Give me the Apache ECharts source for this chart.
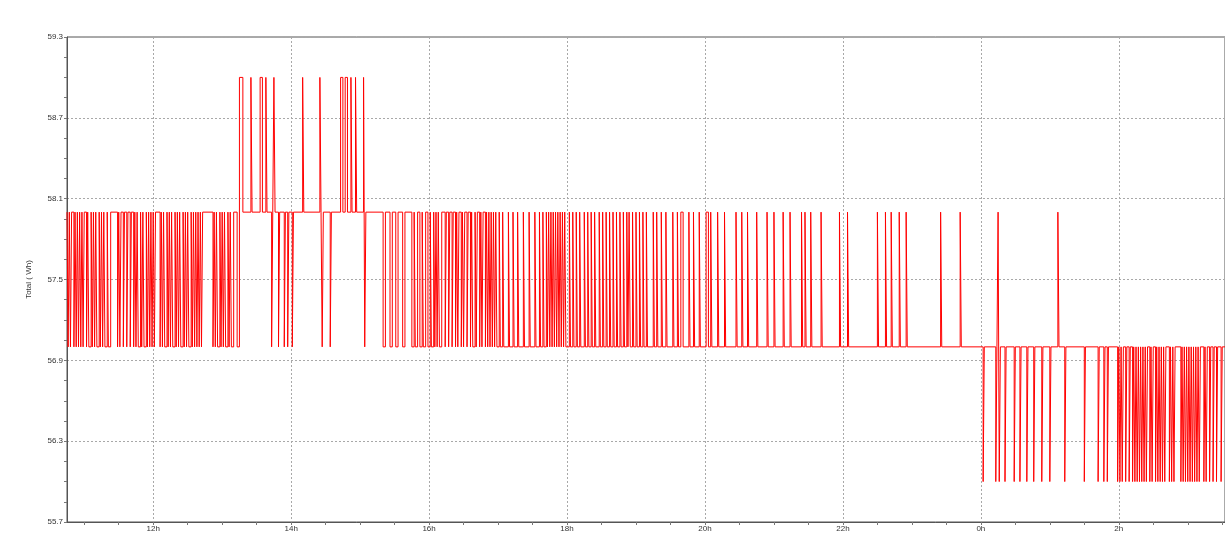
<!DOCTYPE html>
<html><head><meta charset="utf-8">
<script src="https://cdn.jsdelivr.net/npm/echarts@6/dist/echarts.min.js"></script>
<style>html,body{margin:0;padding:0;background:#fff}#c{width:1225px;height:533px}</style>
</head><body><div id="c"></div>
<script>
// Times are minutes after 10:00 (day 1); each entry = [minute, value from that minute on]
const stepsMorning = [[45,58],[46,57],[47,58],[48,57],[49,58],[51,57],[52,58],[53,57],[54,58],[55,57],[56,58],[57,57],[58,58],[59,57],[60,58],[62,57],[63,58],[64,57],[66,58],[67,57],[68,58],[69,57],[70,58],[71,57],[73,58],[74,57],[75,58],[76,57],[77,58],[78,57],[80,58],[81,57],[83,58],[89,57],[90,58],[91,57],[92,58],[94,57],[95,58],[97,57],[98,58],[100,57],[101,58],[103,57],[104,58],[105,57],[106,58],[107,57],[109,58],[110,57],[111,58],[112,57],[114,58],[115,57],[116,58],[117,57],[118,58],[119,57],[120,58],[121,57],[122,58],[126,57],[127,58],[128,57],[129,58],[130,57],[132,58],[133,57],[134,58],[135,57],[136,58],[137,57],[139,58],[140,57],[141,58],[142,57],[143,58],[144,57],[146,58],[147,57],[148,58],[149,57],[150,58],[151,57],[153,58],[154,57],[155,58],[156,57],[157,58],[158,57],[159,58],[160,57],[161,58],[162,57],[163,58],[172,57],[173,58],[174,57],[175,58],[176,57],[178,58],[179,57],[180,58],[181,57],[182,58],[183,57],[185,58],[186,57],[187,58],[188,57],[190,58],[193,57],[195,59],[198,58]];
const stepsMidday = [[205,59],[206,58],[213,59],[215,58],[218,59],[219,58],[223,57],[224,58],[225,59],[226,58],[229,57],[230,58],[234,57],[235,58],[237,57],[238,58],[241,57],[242,58],[250,59],[251,58],[265,59],[266,58],[267,57],[268,58],[274,57],[275,58],[283,59],[285,58],[287,59],[289,58],[292,59],[293,58],[296,59],[297,58],[303,59],[304,57],[305,58],[320,57],[322,58],[326,57],[328,58],[331,57],[333,58],[337,57],[339,58],[345,57],[347,58],[348,57],[350,58],[352,57],[354,58],[355,57],[357,58],[359,57],[361,58],[362,57],[364,58],[365,57],[366,58],[367,57],[368,58],[369,57],[371,58],[374,57],[375,58],[377,57],[378,58],[380,57],[381,58],[383,57],[384,58],[385,57],[386,58],[388,57],[389,58],[390,57],[391,58],[393,57],[394,58],[396,57],[397,58],[398,57],[400,58],[401,57],[402,58],[404,57],[405,58],[406,57],[407,58],[409,57],[410,58],[411,57],[412,58],[413,57],[414,58],[415,57],[416,58],[417,57],[418,58],[419,57],[421,58],[422,57],[424,58]];
const stepsAfternoon = [[425,57],[429,58],[430,57],[433,58],[434,57],[437,58],[438,57],[442,58],[443,57],[447,58],[448,57],[452,58],[453,57],[456,58],[457,57],[459,58],[460,57],[462,58],[463,57],[464,58],[465,57],[466,58],[467,57],[468,58],[469,57],[470,58],[471,57],[472,58],[473,57],[474,58],[475,57],[476,58],[477,57],[478,58],[479,57],[482,58],[483,57],[485,58],[486,57],[488,58],[489,57],[491,58],[492,57],[495,58],[496,57],[498,58],[499,57],[501,58],[502,57],[504,58],[505,57],[508,58],[509,57],[511,58],[512,57],[514,58],[515,57],[517,58],[518,57],[520,58],[521,57],[523,58],[524,57],[526,58],[527,57],[529,58],[530,57],[532,58],[533,57],[534,58],[535,57],[537,58],[538,57],[540,58],[541,57],[543,58],[544,57],[546,58],[547,57],[549,58],[550,57],[555,58],[556,57],[558,58],[559,57],[562,58],[563,57],[566,58],[567,57],[572,58],[573,57],[576,58],[577,57],[579,58],[581,57],[586,58],[587,57],[590,58],[591,57],[595,58],[596,57],[601,58],[603,57],[605,58],[606,57],[611,58],[612,57],[617,58],[618,57],[627,58],[628,57],[632,58],[633,57],[637,58],[638,57],[645,58],[646,57],[654,58],[655,57],[660,58],[661,57],[668,58],[669,57],[674,58],[675,57],[684,58],[685,57],[687,58],[688,57],[692,58],[693,57],[701,58],[702,57],[717,58],[718,57],[724,58],[725,57],[750,58],[751,57],[757,58],[758,57],[762,58],[763,57],[769,58],[770,57],[775,58],[776,57],[805,58],[806,57],[822,58],[823,57]];
const stepsNight = [[842,56],[843,57],[853,56],[854,57],[855,58],[856,56],[857,57],[861,56],[862,57],[869,56],[870,57],[874,56],[875,57],[880,56],[881,57],[886,56],[887,57],[893,56],[894,57],[900,56],[901,57],[907,58],[908,57],[913,56],[914,57],[930,56],[931,57],[942,56],[943,57],[947,56],[948,57],[950,56],[951,57],[959,56],[960,57],[961,56],[962,57],[963,56],[964,57],[966,56],[967,57],[969,56],[970,57],[972,56],[973,57],[974,56],[975,57],[976,56],[977,57],[978,56],[979,57],[980,56],[981,57],[982,56],[983,57],[984,56],[985,57],[987,56],[988,57],[989,56],[990,57],[992,56],[993,57],[994,56],[995,57],[996,56],[997,57],[998,56],[999,57],[1000,56],[1001,57],[1004,56],[1005,57],[1006,56],[1007,57],[1008,56],[1009,57],[1014,56],[1015,57],[1016,56],[1017,57],[1018,56],[1019,57],[1020,56],[1021,57],[1022,56],[1023,57],[1024,56],[1025,57],[1026,56],[1027,57],[1028,56],[1029,57],[1030,56],[1031,57],[1034,56],[1035,57],[1036,56],[1037,57],[1039,56],[1040,57],[1042,56],[1043,57],[1045,56],[1046,57],[1049,56],[1050,57],[1053,57]];

const xTickHours = [12,14,16,18,20,22,24,26];
const xTickLabels = ['12h','14h','16h','18h','20h','22h','0h','2h'];
const yTickValues = [55.7,56.3,56.9,57.5,58.1,58.7,59.3];
const yAxisName = 'Total ( Wh)';

const xMin = 10.75, xMax = 27.54;
const data = stepsMorning.concat(stepsMidday, stepsAfternoon, stepsNight).map(d => [10 + d[0] / 60, d[1]]);

const xMinor = [];
for (let h = 11; h < xMax; h += 0.5) if (h % 2 !== 0) xMinor.push(h);
const yMinor = [];
for (let i = 0; i < yTickValues.length - 1; i++) for (let k = 1; k < 4; k++) yMinor.push(+(yTickValues[i] + 0.15 * k).toFixed(2));

const font = 'Liberation Sans';
const gridLine = { show: true, lineStyle: { color: '#a8a8a8', type: [2, 2], width: 1 } };

const chart = echarts.init(document.getElementById('c'), null, { renderer: 'canvas' });
chart.setOption({
  animation: false,
  backgroundColor: '#fff',
  grid: { left: 67, right: -2, top: 37, bottom: 11, show: true, borderColor: '#555', borderWidth: 1, backgroundColor: 'transparent' },
  xAxis: [{
    type: 'value', min: xMin, max: xMax,
    axisLine: { show: true, onZero: false, lineStyle: { color: '#555' } },
    axisTick: { show: true, length: 3, customValues: xTickHours, lineStyle: { color: '#777' } },
    axisLabel: { customValues: xTickHours, fontSize: 8, fontFamily: font, color: '#333', margin: 3,
      formatter: v => xTickLabels[xTickHours.indexOf(Math.round(v))] || '' },
    splitLine: gridLine
  }, {
    type: 'value', min: xMin, max: xMax, position: 'bottom',
    axisLine: { show: false },
    axisTick: { show: true, length: 3, customValues: xMinor, lineStyle: { color: '#777' } },
    axisLabel: { show: false }, splitLine: { show: false }
  }],
  yAxis: [{
    type: 'value', min: 55.7, max: 59.3,
    name: yAxisName, nameLocation: 'middle', nameGap: 34, nameRotate: 90,
    nameTextStyle: { fontSize: 8, fontFamily: font, color: '#333' },
    axisLine: { show: true, onZero: false, lineStyle: { color: '#555' } },
    axisTick: { show: true, length: 3, customValues: yTickValues, lineStyle: { color: '#777' } },
    axisLabel: { customValues: yTickValues, fontSize: 8, fontFamily: font, color: '#333', margin: 4,
      formatter: v => v.toFixed(1) },
    splitLine: gridLine
  }, {
    type: 'value', min: 55.7, max: 59.3, position: 'left',
    axisLine: { show: false },
    axisTick: { show: true, length: 3, customValues: yMinor, lineStyle: { color: '#777' } },
    axisLabel: { show: false }, splitLine: { show: false }
  }],
  series: [{
    type: 'line', step: 'end', data: data, xAxisIndex: 0, yAxisIndex: 0,
    showSymbol: false, symbol: 'none',
    lineStyle: { color: '#ff0000', width: 1 },
    silent: true
  }]
});
</script></body></html>
